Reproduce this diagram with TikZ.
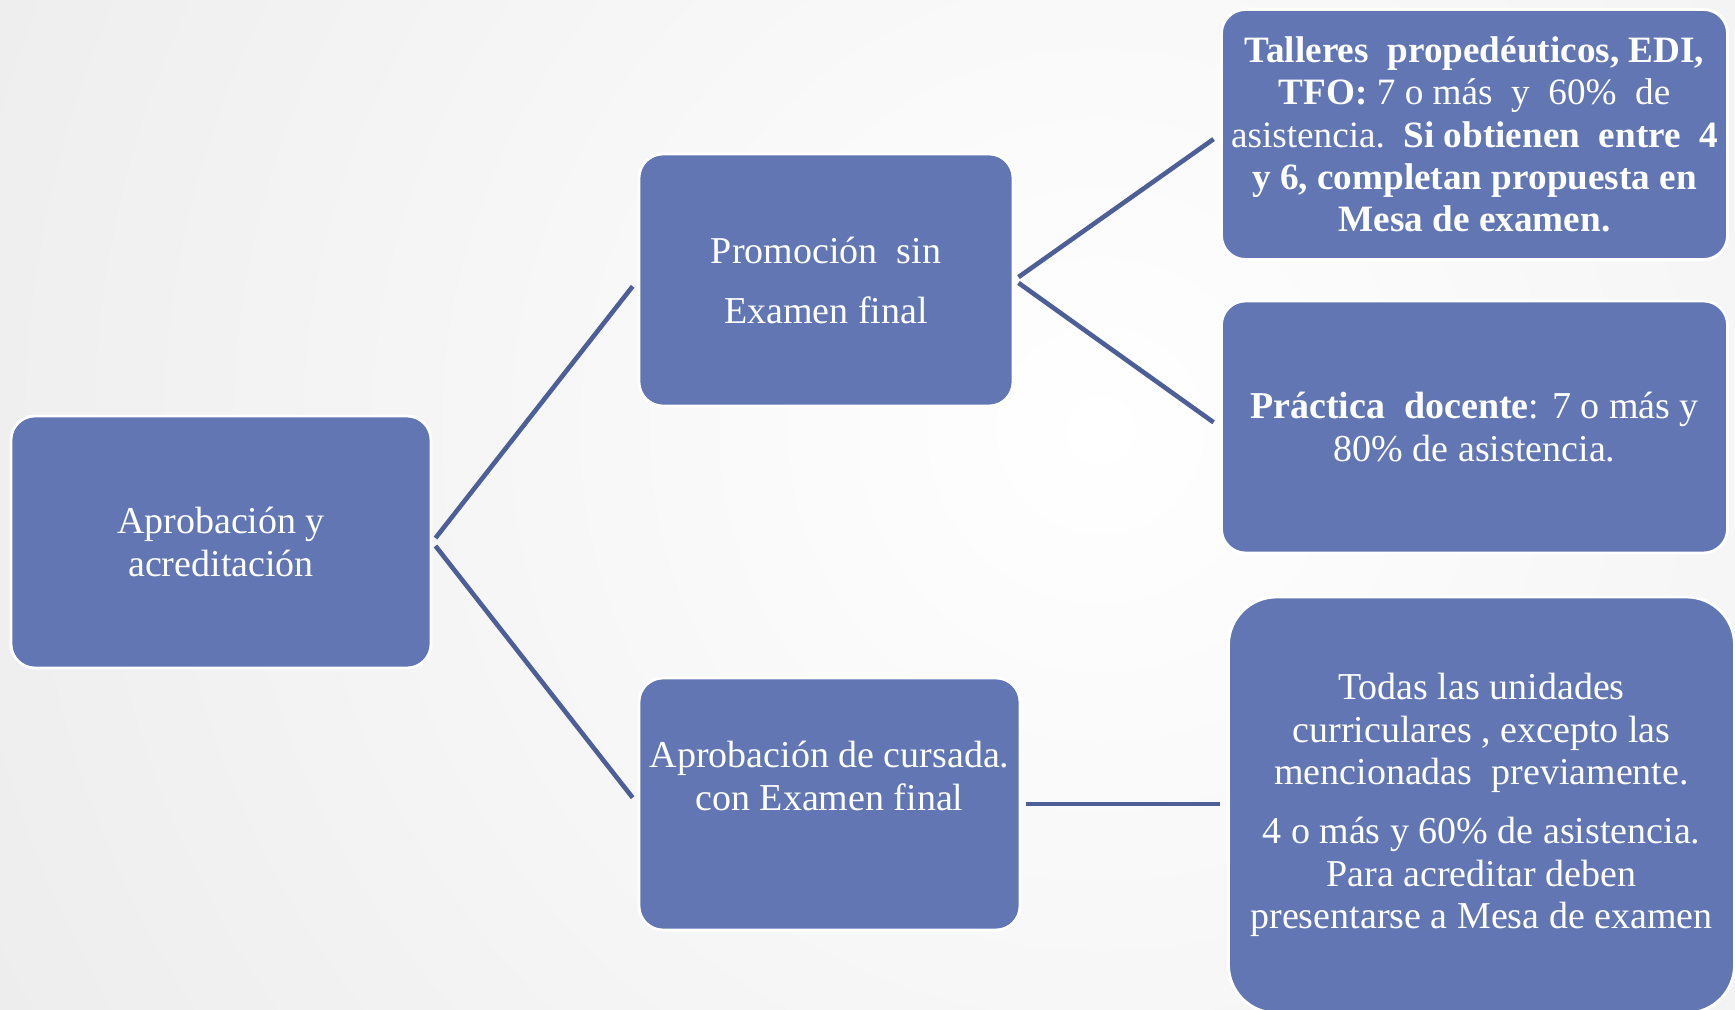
\documentclass[tikz,border=0pt]{standalone}
\usepackage{fontspec}
\setmainfont{Liberation Serif}
\usetikzlibrary{calc}
\definecolor{boxblue}{RGB}{97,118,179}
\definecolor{linkblue}{RGB}{78,94,150}
\begin{document}
\begin{tikzpicture}[x=0.5pt,y=-0.5pt,
  box/.style={rectangle, rounded corners=12pt, fill=boxblue, draw=white, line width=1.4pt,
    text=white, align=center, inner sep=0pt, font=\fontsize{19}{21.2}\selectfont},
  link/.style={draw=linkblue, line width=2.3pt}]
\useasboundingbox (0,0) rectangle (1735,1010);
\begin{scope}
\clip (0,0) rectangle (1735,1010);
\shade[inner color=white, outer color=black!13] (1100,430) circle [radius=2300];
\end{scope}
% boxes
\node[box, minimum width=210pt, minimum height=126pt] (L) at (221,542)
  {Aprobación y\\acreditación};
\node[box, minimum width=187pt, minimum height=126pt, font=\fontsize{19}{30}\selectfont] (P) at (826,280)
  {Promoción\ \ sin\\Examen final};
\node[box, minimum width=190.5pt, minimum height=126pt] (C) at (829.5,804) {};
\node[text=white, align=center, inner sep=0pt, font=\fontsize{19}{21.2}\selectfont] (Ct) at (829.5,776)
  {Aprobación de cursada.\\con Examen final};
\node[box, minimum width=253pt, minimum height=125pt, font=\fontsize{18.6}{21.2}\selectfont] (TR) at (1474.5,134.5)
  {\textbf{Talleres\ \ propedéuticos, EDI,}\\
   \textbf{TFO:} 7 o más\ \ y\ \ 60\%\ \ de\\
   asistencia.\ \ \textbf{Si obtienen\ \ entre\ \ 4}\\
   \textbf{y 6, completan propuesta en}\\
   \textbf{Mesa de examen.}};
\node[box, minimum width=253pt, minimum height=126pt] (MR) at (1474.5,427)
  {\textbf{Práctica\ \ docente}: 7 o más y\\80\% de asistencia.};
\node[box, rounded corners=24pt, minimum width=253pt, minimum height=208pt] (BR) at (1481.5,805)
  {Todas las unidades\\curriculares , excepto las\\mencionadas\ \ previamente.\\[8.3pt]
   4 o más y 60\% de asistencia.\\Para acreditar deben\\presentarse a Mesa de examen};
% connectors
\draw[link, shorten <=2.5pt, shorten >=4pt] (L.east) -- (P.west);
\draw[link, shorten <=2.5pt, shorten >=4pt] (L.east) -- (C.west);
\draw[link, shorten <=2.5pt, shorten >=4pt] (P.east) -- (TR.west);
\draw[link, shorten <=2.5pt, shorten >=4pt] (P.east) -- (MR.west);
\draw[link, shorten <=2.5pt, shorten >=3.5pt] (C.east) -- (C.east -| BR.west);
\end{tikzpicture}
\end{document}
